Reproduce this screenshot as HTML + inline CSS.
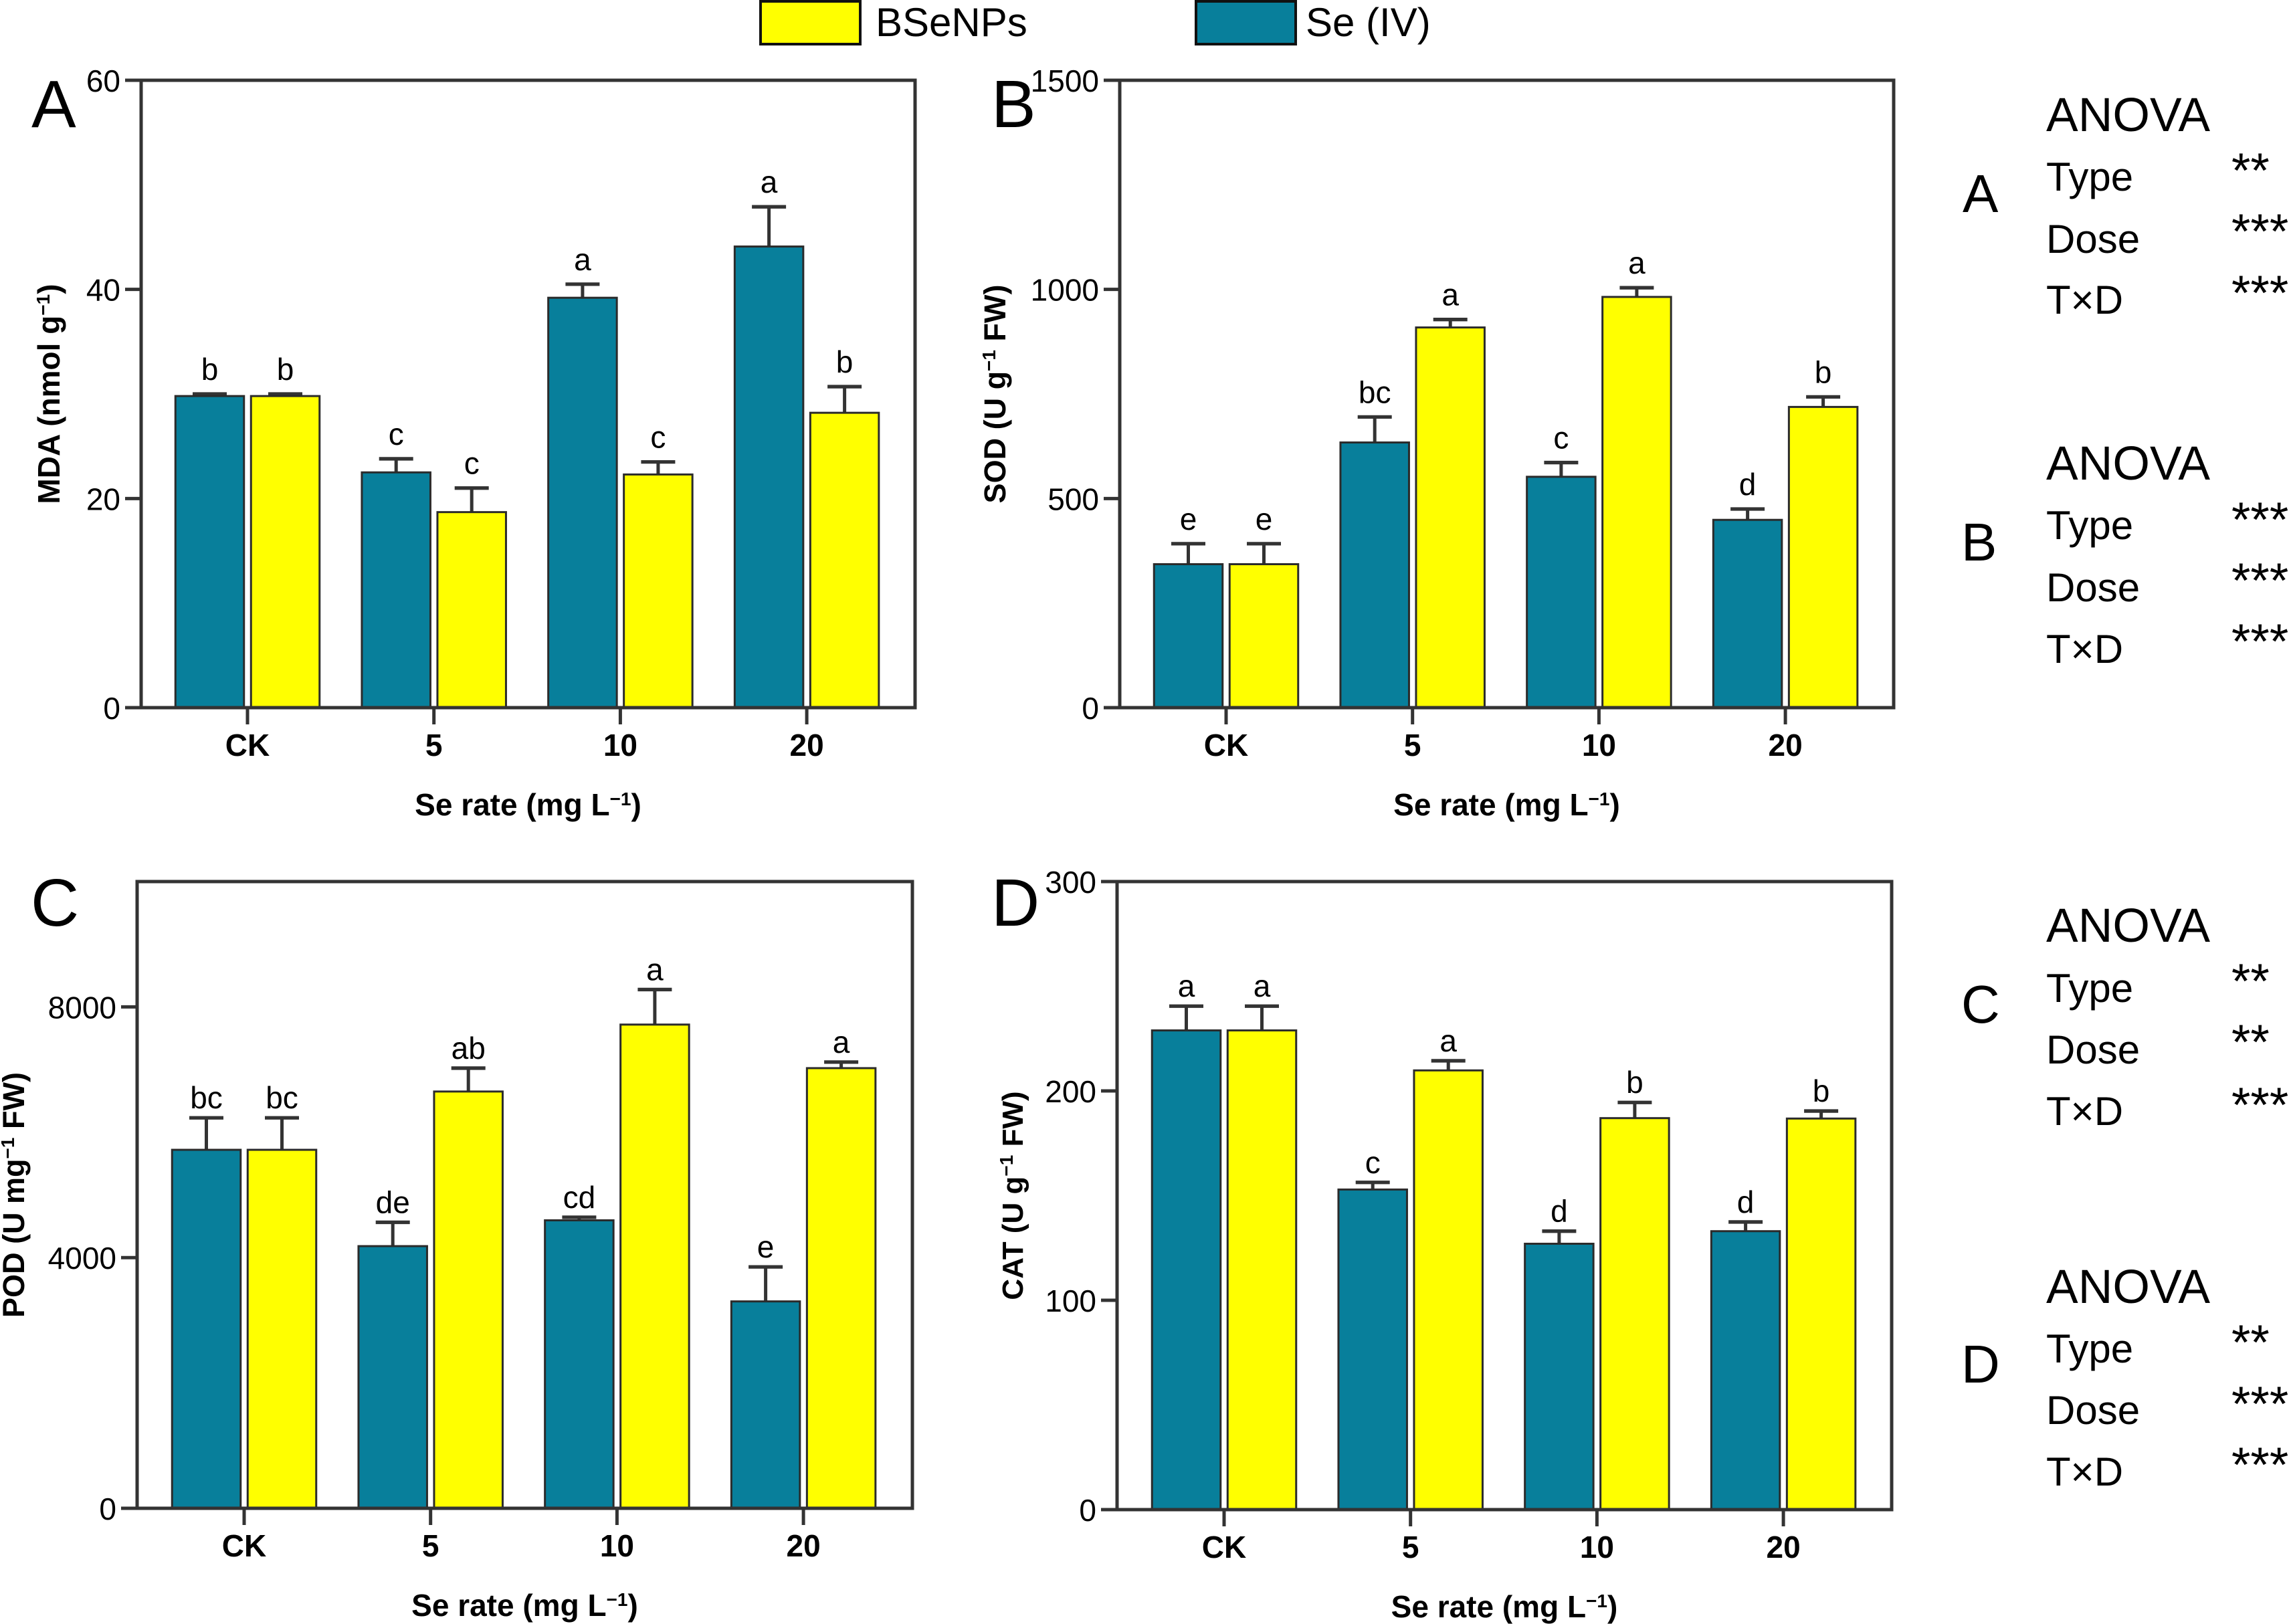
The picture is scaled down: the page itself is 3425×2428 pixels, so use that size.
<!DOCTYPE html>
<html lang="en">
<head>
<meta charset="utf-8">
<title>Antioxidant enzyme bar charts</title>
<style>
html,body{margin:0;padding:0;background:#fff;}
svg{display:block;font-family:"Liberation Sans",Arial,sans-serif;}
.sideLabel{font-size:60px;fill:#000;}
.stars{font-size:73px;fill:#000;}
.anovaHead{font-size:71.5px;fill:#000;}
.sideLetter{font-size:80px;fill:#000;}
.panelLetter{font-size:100px;fill:#000;}
.legendText{font-size:60px;fill:#000;}
</style>
</head>
<body>
<svg id="figure" width="3425" height="2428" viewBox="0 0 3425 2428" xmlns="http://www.w3.org/2000/svg">
  <rect x="0" y="0" width="3425" height="2428" fill="#fff"/>

  <g>
    <rect x="1137" y="2" width="149" height="64" fill="#ffff00" stroke="#111" stroke-width="4"/>
    <text class="legendText" x="1309" y="54">BSeNPs</text>
    <rect x="1788" y="2" width="149" height="64" fill="#087f9b" stroke="#111" stroke-width="4"/>
    <text class="legendText" x="1952" y="54">Se (IV)</text>
  </g>

  <text class="panelLetter" x="47" y="190">A</text>
  <text class="panelLetter" x="1482" y="190">B</text>
  <text class="panelLetter" x="46" y="1384">C</text>
  <text class="panelLetter" x="1482" y="1384">D</text>

  <g>
    <text class="sideLetter" x="2934" y="317">A</text>
    <text class="anovaHead" x="3059" y="196">ANOVA</text>
    <text class="sideLabel" x="3059" y="285">Type</text>
    <text class="sideLabel" x="3059" y="378">Dose</text>
    <text class="sideLabel" x="3059" y="469">T×D</text>
    <text class="stars" x="3336" y="280">**</text>
    <text class="stars" x="3336" y="371">***</text>
    <text class="stars" x="3336" y="463">***</text>
  </g>
  <g>
    <text class="sideLetter" x="2932" y="838">B</text>
    <text class="anovaHead" x="3059" y="717">ANOVA</text>
    <text class="sideLabel" x="3059" y="806">Type</text>
    <text class="sideLabel" x="3059" y="899">Dose</text>
    <text class="sideLabel" x="3059" y="991">T×D</text>
    <text class="stars" x="3336" y="802">***</text>
    <text class="stars" x="3336" y="893">***</text>
    <text class="stars" x="3336" y="984">***</text>
  </g>
  <g>
    <text class="sideLetter" x="2932" y="1529">C</text>
    <text class="anovaHead" x="3059" y="1408">ANOVA</text>
    <text class="sideLabel" x="3059" y="1498">Type</text>
    <text class="sideLabel" x="3059" y="1590">Dose</text>
    <text class="sideLabel" x="3059" y="1682">T×D</text>
    <text class="stars" x="3336" y="1492">**</text>
    <text class="stars" x="3336" y="1583">**</text>
    <text class="stars" x="3336" y="1677">***</text>
  </g>
  <g>
    <text class="sideLetter" x="2932" y="2067">D</text>
    <text class="anovaHead" x="3059" y="1948">ANOVA</text>
    <text class="sideLabel" x="3059" y="2037">Type</text>
    <text class="sideLabel" x="3059" y="2129">Dose</text>
    <text class="sideLabel" x="3059" y="2221">T×D</text>
    <text class="stars" x="3336" y="2032">**</text>
    <text class="stars" x="3336" y="2124">***</text>
    <text class="stars" x="3336" y="2215">***</text>
  </g>
</svg>

<script>
// Shared category and axis-title data
const categories = ['CK', '5', '10', '20'];
const xAxisTitle = 'Se rate (mg L';

// Panel A: MDA
const mdaTicks = [0, 20, 40, 60];
const mdaMax = [60];
const mdaSe = [29.8, 22.5, 39.2, 44.1];
const mdaSeErr = [0.2, 1.3, 1.3, 3.8];
const mdaSeLetters = ['b', 'c', 'a', 'a'];
const mdaNano = [29.8, 18.7, 22.3, 28.2];
const mdaNanoErr = [0.2, 2.3, 1.2, 2.5];
const mdaNanoLetters = ['b', 'c', 'c', 'b'];

// Panel B: SOD
const sodTicks = [0, 500, 1000, 1500];
const sodMax = [1500];
const sodSe = [343, 634, 552, 449];
const sodSeErr = [49, 61, 34, 26];
const sodSeLetters = ['e', 'bc', 'c', 'd'];
const sodNano = [343, 909, 982, 719];
const sodNanoErr = [49, 19, 22, 24];
const sodNanoLetters = ['e', 'a', 'a', 'b'];

// Panel C: POD
const podTicks = [0, 4000, 8000];
const podMax = [10000];
const podSe = [5720, 4183, 4595, 3301];
const podSeErr = [510, 380, 49, 550];
const podSeLetters = ['bc', 'de', 'cd', 'e'];
const podNano = [5720, 6650, 7718, 7023];
const podNanoErr = [510, 373, 559, 97];
const podNanoLetters = ['bc', 'ab', 'a', 'a'];

// Panel D: CAT
const catTicks = [0, 100, 200, 300];
const catMax = [300];
const catSe = [228.9, 152.9, 127, 133];
const catSeErr = [11.6, 3.4, 6, 4.4];
const catSeLetters = ['a', 'c', 'd', 'd'];
const catNano = [228.9, 209.8, 187, 186.8];
const catNanoErr = [11.6, 4.6, 7.5, 3.6];
const catNanoLetters = ['a', 'a', 'b', 'b'];

const NS = 'http://www.w3.org/2000/svg';
const figure = document.getElementById('figure');
const INK = '#333333';

function mk(tag, attrs, parent) {
  const el = document.createElementNS(NS, tag);
  for (const k in attrs) el.setAttribute(k, attrs[k]);
  parent.appendChild(el);
  return el;
}

function drawPanel(p) {
  const w = p.right - p.left;
  const h = p.bottom - p.top;
  const yOf = v => p.bottom - (v / p.max) * h;
  const xOf = i => p.left + p.firstOffset + i * 278.7;
  const BAR_W = 102.5, GAP = 10.5;

  const g = mk('g', {}, figure);
  
  

  // bars, error bars, letters
  const series = [
    { key: 'se-iv', fill: '#087f9b', vals: p.se, errs: p.seErr, letters: p.seLetters, dir: -1 },
    { key: 'bsenps', fill: '#ffff00', vals: p.nano, errs: p.nanoErr, letters: p.nanoLetters, dir: 1 }
  ];
  series.forEach(s => {
    s.vals.forEach((v, i) => {
      const cx = xOf(i) + s.dir * (GAP / 2 + BAR_W / 2);
      const topY = yOf(v + s.errs[i]);
      const stem = mk('line', { x1: cx, x2: cx, y1: yOf(v), y2: topY, stroke: INK, 'stroke-width': 5 }, g);
      
      
      const cap = mk('line', { x1: cx - 25.5, x2: cx + 25.5, y1: topY, y2: topY, stroke: INK, 'stroke-width': 5.3 }, g);
      
      
      const bar = mk('rect', { x: cx - BAR_W / 2, y: yOf(v), width: BAR_W, height: p.bottom - yOf(v), fill: s.fill, stroke: '#2b2b2b', 'stroke-width': 3 }, g);
      
      
      const lab = mk('text', { x: cx, y: topY - p.letterGap, 'text-anchor': 'middle', 'font-size': 46, fill: '#000' }, g);
      lab.textContent = s.letters[i];
      
      
    });
  });

  // frame
  const frame = mk('rect', { x: p.left, y: p.top, width: w, height: h, fill: 'none', stroke: INK, 'stroke-width': 5 }, g);
  
  

  // y ticks
  p.ticks.forEach(t => {
    const y = yOf(t);
    const tick = mk('line', { x1: p.left - 24, x2: p.left, y1: y, y2: y, stroke: INK, 'stroke-width': 5 }, g);
    
    
    const lab = mk('text', { x: p.left - 31, y: y + 17, 'text-anchor': 'end', 'font-size': 46, fill: '#000' }, g);
    lab.textContent = t;
    
    
  });

  // x ticks
  categories.forEach((c, i) => {
    const x = xOf(i);
    const tick = mk('line', { x1: x, x2: x, y1: p.bottom, y2: p.bottom + 25, stroke: INK, 'stroke-width': 5 }, g);
    
    
    const lab = mk('text', { x: x, y: p.bottom + 72, 'text-anchor': 'middle', 'font-size': 46, 'font-weight': 'bold', fill: '#000' }, g);
    lab.textContent = c;
    
    
  });

  // x title
  const xt = mk('text', { x: (p.left + p.right) / 2, y: p.bottom + 161, 'text-anchor': 'middle', 'font-size': 46, 'font-weight': 'bold', fill: '#000' }, g);
  
  
  addSuperscriptText(xt, xAxisTitle, ')');

  // y title
  const cy = (p.top + p.bottom) / 2;
  const yt = mk('text', { x: 0, y: 0, transform: 'translate(' + p.yTitleX + ',' + cy + ') rotate(-90)', 'text-anchor': 'middle', 'font-size': p.yTitleSize, 'font-weight': 'bold', fill: '#000' }, g);
  
  
  addSuperscriptText(yt, p.yTitleA, p.yTitleB);
}

function addSuperscriptText(textEl, before, after) {
  const a = mk('tspan', {}, textEl);
  a.textContent = before;
  const sup = mk('tspan', { dy: -15, 'font-size': 28 }, textEl);
  sup.textContent = '−1';
  const b = mk('tspan', { dy: 15 }, textEl);
  b.textContent = after;
}

drawPanel({ key: 'a-mda', left: 211, right: 1368, top: 120, bottom: 1058, firstOffset: 159, max: mdaMax[0], ticks: mdaTicks,
  se: mdaSe, seErr: mdaSeErr, seLetters: mdaSeLetters, nano: mdaNano, nanoErr: mdaNanoErr, nanoLetters: mdaNanoLetters,
  letterGap: 21, yTitleX: 89, yTitleSize: 46, yTitleA: 'MDA (nmol g', yTitleB: ')' });
drawPanel({ key: 'b-sod', left: 1674, right: 2831, top: 120, bottom: 1058, firstOffset: 159, max: sodMax[0], ticks: sodTicks,
  se: sodSe, seErr: sodSeErr, seLetters: sodSeLetters, nano: sodNano, nanoErr: sodNanoErr, nanoLetters: sodNanoLetters,
  letterGap: 21, yTitleX: 1503, yTitleSize: 45, yTitleA: 'SOD (U g', yTitleB: ' FW)' });
drawPanel({ key: 'c-pod', left: 205, right: 1364, top: 1318, bottom: 2255, firstOffset: 160, max: podMax[0], ticks: podTicks,
  se: podSe, seErr: podSeErr, seLetters: podSeLetters, nano: podNano, nanoErr: podNanoErr, nanoLetters: podNanoLetters,
  letterGap: 14, yTitleX: 36, yTitleSize: 45, yTitleA: 'POD (U mg', yTitleB: ' FW)' });
drawPanel({ key: 'd-cat', left: 1670, right: 2828, top: 1318, bottom: 2257, firstOffset: 160, max: catMax[0], ticks: catTicks,
  se: catSe, seErr: catSeErr, seLetters: catSeLetters, nano: catNano, nanoErr: catNanoErr, nanoLetters: catNanoLetters,
  letterGap: 14, yTitleX: 1529, yTitleSize: 44, yTitleA: 'CAT (U g', yTitleB: ' FW)' });
</script>
</body>
</html>
